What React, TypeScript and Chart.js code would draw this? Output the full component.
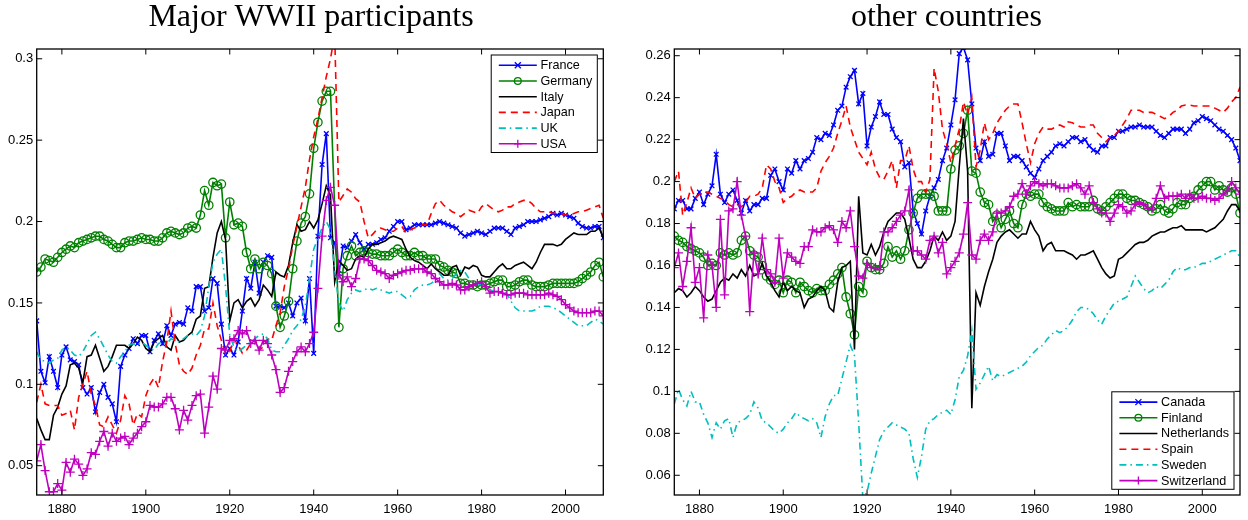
import React, { useEffect, useRef } from "react";
import { Chart, registerables } from "chart.js";

Chart.register(...registerables);

// ---------- categories ----------
const START_YEAR = 1874;
const END_YEAR = 2009;
const years: number[] = Array.from({ length: END_YEAR - START_YEAR + 1 }, (_, i) => START_YEAR + i);

// ---------- tick labels ----------
const xTicks = [1880, 1900, 1920, 1940, 1960, 1980, 2000];
const leftYTicks = [0.05, 0.1, 0.15, 0.2, 0.25, 0.3];
const rightYTicks = [0.06, 0.08, 0.1, 0.12, 0.14, 0.16, 0.18, 0.2, 0.22, 0.24, 0.26];

// ---------- left panel: Major WWII participants ----------
const france = [
  0.139, 0.108, 0.101, 0.117, 0.108, 0.098,
  0.118, 0.123, 0.115, 0.114, 0.112, 0.098, 0.094, 0.098, 0.083, 0.095,
  0.100, 0.092, 0.088, 0.077, 0.111, 0.118, 0.122, 0.128, 0.125, 0.130,
  0.130, 0.120, 0.127, 0.131, 0.125, 0.136, 0.130, 0.137, 0.138, 0.137,
  0.147, 0.145, 0.160, 0.160, 0.145, 0.147, 0.165, 0.162, 0.137, 0.118,
  0.122, 0.118, 0.126, 0.145, 0.165, 0.159, 0.175, 0.156, 0.175, 0.179,
  0.178, 0.148, 0.148, 0.147, 0.150, 0.142, 0.150, 0.153, 0.139, 0.165,
  0.119, 0.191, 0.235, 0.254, 0.190, 0.187, 0.168, 0.185, 0.184, 0.188,
  0.192, 0.187, 0.183, 0.186, 0.186, 0.187, 0.189, 0.190, 0.194, 0.197,
  0.200, 0.200, 0.195, 0.196, 0.198, 0.198, 0.198, 0.198, 0.198, 0.199,
  0.200, 0.199, 0.198, 0.197, 0.196, 0.193, 0.191, 0.192, 0.193, 0.194,
  0.193, 0.192, 0.194, 0.196, 0.196, 0.196, 0.194, 0.192, 0.196, 0.197,
  0.198, 0.200, 0.200, 0.200, 0.201, 0.202, 0.203, 0.205, 0.204, 0.205,
  0.204, 0.203, 0.202, 0.199, 0.197, 0.196, 0.196, 0.197, 0.197, 0.190,
];
const germany = [
  0.169, 0.172, 0.177, 0.176, 0.175, 0.178,
  0.181, 0.183, 0.185, 0.184, 0.187, 0.188, 0.189, 0.190, 0.191, 0.191,
  0.189, 0.188, 0.186, 0.184, 0.184, 0.187, 0.188, 0.188, 0.189, 0.190,
  0.189, 0.189, 0.188, 0.188, 0.190, 0.193, 0.194, 0.193, 0.192, 0.193,
  0.196, 0.197, 0.196, 0.204, 0.219, 0.210, 0.224, 0.222, 0.223, 0.190,
  0.212, 0.198, 0.199, 0.197, 0.181, 0.171, 0.177, 0.171, 0.175, 0.173,
  0.168, 0.148, 0.135, 0.142, 0.151, 0.171, 0.188, 0.199, 0.203, 0.217,
  0.245, 0.261, 0.274, 0.280, 0.280, null, 0.135, 0.171, 0.179, 0.185,
  0.179, 0.181, 0.182, 0.181, 0.180, 0.180, 0.179, 0.179, 0.179, 0.181,
  0.183, 0.181, 0.179, 0.179, 0.181, 0.179, 0.179, 0.177, 0.177, 0.177,
  0.173, 0.172, 0.170, 0.169, 0.168, 0.162, 0.162, 0.161, 0.161, 0.160,
  0.161, 0.161, 0.162, 0.163, 0.164, 0.164, 0.160, 0.160, 0.161, 0.163,
  0.164, 0.164, 0.161, 0.160, 0.160, 0.160, 0.161, 0.162, 0.162, 0.162,
  0.162, 0.162, 0.162, 0.163, 0.165, 0.167, 0.169, 0.173, 0.175, 0.166,
];
const italy = [
  0.079, 0.072, 0.066, 0.066, 0.081, 0.086,
  0.094, 0.099, 0.112, 0.113, 0.110, 0.101, 0.117, 0.118, 0.124, 0.116,
  0.108, 0.111, 0.117, 0.124, 0.124, 0.124, 0.122, 0.125, 0.129, 0.127,
  0.122, 0.120, 0.126, 0.128, 0.130, 0.123, 0.121, 0.130, 0.126, 0.127,
  0.130, 0.132, 0.140, 0.142, 0.159, 0.160, 0.178, 0.193, 0.200, 0.189,
  0.139, 0.150, 0.152, 0.147, 0.151, 0.153, 0.148, 0.152, 0.161, 0.158,
  0.154, 0.169, 0.167, 0.166, 0.173, 0.187, 0.198, 0.194, 0.195, 0.200,
  0.196, 0.201, 0.211, 0.222, 0.216, 0.163, 0.176, 0.173, 0.170, 0.171,
  0.177, 0.179, 0.178, 0.183, 0.186, 0.186, 0.187, 0.188, 0.190, 0.191,
  0.190, 0.189, 0.183, 0.178, 0.176, 0.175, 0.173, 0.171, 0.174, 0.171,
  0.169, 0.167, 0.167, 0.172, 0.173, 0.167, 0.172, 0.171, 0.173, 0.172,
  0.167, 0.166, 0.166, 0.169, 0.172, 0.174, 0.171, 0.171, 0.173, 0.174,
  0.175, 0.173, 0.171, 0.175, 0.181, 0.186, 0.186, 0.186, 0.185, 0.186,
  0.189, 0.191, 0.193, 0.192, 0.192, 0.192, 0.194, 0.194, 0.196, 0.190,
];
const japan = [
  0.089, 0.100, 0.088, 0.087, 0.087, 0.087,
  0.081, 0.082, 0.084, 0.072, 0.092, 0.100, 0.108, 0.094, 0.087, 0.075,
  0.074, 0.080, 0.075, 0.070, 0.078, 0.093, 0.088, 0.075, 0.082, 0.080,
  0.093, 0.100, 0.104, 0.098, 0.114, 0.126, 0.145, 0.125, 0.112, 0.108,
  0.106, 0.110, 0.118, 0.124, 0.134, 0.134, 0.150, 0.136, 0.127, 0.119,
  0.120, 0.128, 0.124, 0.119, 0.121, 0.125, 0.128, 0.121, 0.123, 0.128,
  0.127, 0.136, 0.144, 0.160, 0.171, 0.185, 0.197, 0.209, 0.221, 0.238,
  0.252, 0.263, 0.276, 0.289, 0.300, 0.315, 0.212, 0.216, 0.220, 0.218,
  0.214, 0.212, 0.200, 0.190, 0.192, 0.195, 0.196, 0.195, 0.194, 0.194,
  0.196, 0.197, 0.193, 0.195, 0.196, 0.197, 0.198, 0.198, 0.205, 0.211,
  0.213, 0.210, 0.208, 0.206, 0.205, 0.203, 0.205, 0.207, 0.206, 0.205,
  0.209, 0.211, 0.209, 0.207, 0.206, 0.207, 0.209, 0.209, 0.211, 0.212,
  0.213, 0.213, 0.211, 0.208, 0.206, 0.206, 0.206, 0.205, 0.205, 0.205,
  0.204, 0.204, 0.205, 0.206, 0.206, 0.207, 0.208, 0.209, 0.210, 0.202,
];
const uk = [
  0.120, 0.115, 0.114, 0.113, 0.115, 0.116,
  0.121, 0.123, 0.121, 0.118, 0.117, 0.120, 0.125, 0.130, 0.132, 0.128,
  0.123, 0.118, 0.114, 0.113, 0.117, 0.120, 0.124, 0.125, 0.124, 0.126,
  0.124, 0.122, 0.121, 0.125, 0.126, 0.125, 0.128, 0.127, 0.126, 0.128,
  0.130, 0.131, 0.130, 0.133, 0.142, 0.160, 0.175, 0.180, 0.183, 0.160,
  0.130, 0.123, 0.120, 0.122, 0.124, 0.126, 0.128, 0.130, 0.131, 0.128,
  0.121, 0.120, 0.120, 0.124, 0.128, 0.133, 0.136, 0.140, 0.148, 0.165,
  0.183, 0.190, 0.196, 0.200, 0.195, 0.170, 0.150, 0.145, 0.152, 0.156,
  0.158, 0.157, 0.158, 0.159, 0.158, 0.159, 0.158, 0.157, 0.156, 0.157,
  0.157, 0.155, 0.153, 0.154, 0.158, 0.160, 0.161, 0.161, 0.162, 0.164,
  0.168, 0.165, 0.164, 0.165, 0.168, 0.170, 0.169, 0.165, 0.162, 0.162,
  0.161, 0.160, 0.158, 0.157, 0.157, 0.158, 0.156, 0.151, 0.147, 0.145,
  0.145, 0.145, 0.145, 0.146, 0.148, 0.148, 0.148, 0.147, 0.146, 0.144,
  0.142, 0.140, 0.138, 0.136, 0.136, 0.136, 0.138, 0.140, 0.139, 0.137,
];
const usa = [
  0.053, 0.063, 0.047, 0.034, 0.034, 0.039,
  0.035, 0.052, 0.046, 0.054, 0.051, 0.044, 0.048, 0.058, 0.057, 0.065,
  0.071, 0.062, 0.070, 0.065, 0.067, 0.068, 0.063, 0.067, 0.070, 0.074,
  0.077, 0.087, 0.086, 0.086, 0.088, 0.092, 0.092, 0.085, 0.072, 0.084,
  0.078, 0.087, 0.093, 0.094, 0.070, 0.086, 0.105, 0.097, 0.122, 0.121,
  0.127, 0.128, 0.133, 0.131, 0.133, 0.125, 0.127, 0.121, 0.127, 0.125,
  0.118, 0.109, 0.095, 0.098, 0.108, 0.114, 0.120, 0.123, 0.120, 0.125,
  0.132, 0.159, 0.191, 0.213, 0.221, 0.210, 0.167, 0.163, 0.166, 0.160,
  0.165, 0.177, 0.177, 0.176, 0.173, 0.170, 0.169, 0.168, 0.165, 0.167,
  0.168, 0.169, 0.170, 0.170, 0.171, 0.171, 0.171, 0.169, 0.168, 0.165,
  0.163, 0.161, 0.161, 0.162, 0.161, 0.158, 0.158, 0.160, 0.161, 0.162,
  0.163, 0.160, 0.156, 0.157, 0.157, 0.156, 0.155, 0.155, 0.156, 0.156,
  0.156, 0.155, 0.155, 0.155, 0.155, 0.155, 0.156, 0.155, 0.154, 0.152,
  0.149, 0.147, 0.145, 0.144, 0.144, 0.144, 0.144, 0.145, 0.145, 0.142,
];

// ---------- right panel: other countries ----------
const canada = [
  0.187, 0.191, 0.191, 0.187, 0.187, 0.192,
  0.195, 0.189, 0.194, 0.198, 0.213, 0.194, 0.190, 0.194, 0.196, 0.191,
  0.185, 0.191, 0.186, 0.189, 0.189, 0.192, 0.192, 0.203, 0.206, 0.200,
  0.196, 0.206, 0.204, 0.210, 0.206, 0.210, 0.211, 0.214, 0.221, 0.220,
  0.223, 0.222, 0.227, 0.234, 0.236, 0.245, 0.250, 0.253, 0.237, 0.242,
  0.217, 0.226, 0.231, 0.238, 0.232, 0.232, 0.225, 0.221, 0.219, 0.207,
  0.209, 0.186, 0.180, 0.175, 0.186, 0.193, 0.197, 0.201, 0.210, 0.216,
  0.227, 0.239, 0.261, 0.264, 0.258, 0.237, 0.216, 0.210, 0.219, 0.212,
  0.213, 0.223, 0.223, 0.217, 0.210, 0.212, 0.212, 0.210, 0.207, 0.204,
  0.202, 0.206, 0.210, 0.212, 0.214, 0.217, 0.218, 0.217, 0.219, 0.221,
  0.221, 0.219, 0.220, 0.217, 0.215, 0.214, 0.217, 0.217, 0.221, 0.221,
  0.224, 0.224, 0.225, 0.226, 0.226, 0.227, 0.226, 0.226, 0.226, 0.224,
  0.222, 0.221, 0.223, 0.225, 0.225, 0.225, 0.223, 0.225, 0.228, 0.229,
  0.231, 0.230, 0.229, 0.227, 0.225, 0.224, 0.222, 0.220, 0.216, 0.210,
];
const finland = [
  0.174, 0.172, 0.171, 0.169, 0.168, 0.167,
  0.166, 0.164, 0.160, 0.161, 0.160, 0.166, 0.165, 0.166, 0.165, 0.166,
  0.172, 0.174, 0.167, 0.165, 0.164, 0.160, 0.155, 0.153, 0.151, 0.153,
  0.147, 0.153, 0.152, 0.147, 0.152, 0.150, 0.148, 0.147, 0.149, 0.148,
  0.148, 0.151, 0.153, 0.156, 0.159, 0.145, 0.137, 0.127, 0.150, 0.147,
  0.162, 0.159, 0.158, 0.158, 0.161, 0.169, 0.164, 0.167, 0.163, 0.167,
  0.177, 0.185, 0.192, 0.194, 0.194, 0.194, 0.193, 0.186, 0.186, 0.186,
  0.206, 0.215, 0.217, 0.223, 0.234, 0.205, 0.204, 0.195, 0.190, 0.189,
  0.181, 0.184, 0.178, 0.182, 0.186, 0.180, 0.178, 0.189, 0.194, 0.193,
  0.194, 0.194, 0.190, 0.188, 0.187, 0.186, 0.186, 0.186, 0.190, 0.188,
  0.189, 0.188, 0.188, 0.188, 0.191, 0.187, 0.186, 0.188, 0.190, 0.192,
  0.194, 0.194, 0.192, 0.191, 0.191, 0.190, 0.189, 0.188, 0.186, 0.187,
  0.189, 0.186, 0.185, 0.187, 0.190, 0.189, 0.189, 0.192, 0.193, 0.196,
  0.198, 0.200, 0.200, 0.196, 0.198, 0.196, 0.195, 0.197, 0.194, 0.185,
];
const netherlands = [
  0.147, 0.149, 0.148, 0.145, 0.147, 0.150,
  0.148, 0.145, 0.143, 0.144, 0.148, 0.152, 0.154, 0.153, 0.156, 0.154,
  0.158, 0.155, 0.160, 0.155, 0.156, 0.161, 0.155, 0.152, 0.148, 0.145,
  0.152, 0.148, 0.150, 0.148, 0.147, 0.140, 0.144, 0.145, 0.148, 0.150,
  0.148, 0.140, 0.138, 0.152, 0.159, 0.160, 0.162, 0.120, 0.193, 0.166,
  0.165, 0.170, 0.165, 0.169, 0.176, 0.181, 0.183, 0.185, 0.185, 0.182,
  0.173, 0.163, 0.159, 0.159, 0.162, 0.167, 0.174, 0.172, 0.176, 0.172,
  0.174, 0.181, 0.207, 0.230, 0.205, 0.092, 0.147, 0.141, 0.150, 0.157,
  0.163, 0.171, 0.174, 0.176, 0.177, 0.175, 0.173, 0.175, 0.175, 0.181,
  0.177, 0.174, 0.167, 0.170, 0.171, 0.167, 0.167, 0.167, 0.166, 0.165,
  0.163, 0.165, 0.165, 0.166, 0.167, 0.163, 0.159, 0.156, 0.154, 0.155,
  0.163, 0.164, 0.166, 0.168, 0.170, 0.171, 0.171, 0.172, 0.174, 0.175,
  0.176, 0.176, 0.177, 0.178, 0.178, 0.179, 0.177, 0.177, 0.177, 0.177,
  0.177, 0.176, 0.177, 0.178, 0.180, 0.182, 0.186, 0.189, 0.189, 0.186,
];
const spain = [
  0.200, 0.205, 0.184, 0.190, 0.197, 0.192,
  0.194, 0.195, 0.195, 0.194, 0.193, 0.192, 0.191, 0.189, 0.188, 0.189,
  0.188, 0.190, 0.193, 0.193, 0.194, 0.197, 0.208, 0.206, 0.200, 0.197,
  0.190, 0.192, 0.193, 0.195, 0.196, 0.195, 0.195, 0.195, 0.197, 0.205,
  0.209, 0.212, 0.216, 0.223, 0.229, 0.236, 0.226, 0.220, 0.214, 0.211,
  0.208, 0.214, 0.206, 0.202, 0.201, 0.205, 0.210, 0.197, 0.210, 0.210,
  0.217, 0.206, 0.200, 0.200, 0.195, 0.201, 0.254, 0.243, 0.225, 0.218,
  0.209, 0.217, 0.225, 0.238, 0.232, 0.240, 0.207, 0.215, 0.228, 0.220,
  0.223, 0.228, 0.231, 0.234, 0.236, 0.237, 0.237, 0.228, 0.218, 0.209,
  0.218, 0.223, 0.226, 0.225, 0.225, 0.226, 0.227, 0.226, 0.2285, 0.228,
  0.227, 0.226, 0.226, 0.227, 0.227, 0.223, 0.221, 0.219, 0.221, 0.222,
  0.224, 0.227, 0.230, 0.234, 0.234, 0.234, 0.233, 0.233, 0.233, 0.232,
  0.231, 0.230, 0.231, 0.233, 0.234, 0.236, 0.2365, 0.2365, 0.236, 0.236,
  0.236, 0.236, 0.236, 0.235, 0.234, 0.233, 0.235, 0.238, 0.240, 0.245,
];
const sweden = [
  0.094, 0.101, 0.096, 0.093, 0.100, 0.095,
  0.095, 0.089, 0.085, 0.078, 0.085, 0.082, 0.086, 0.087, 0.078, 0.085,
  0.086, 0.087, 0.089, 0.095, 0.092, 0.086, 0.085, 0.083, 0.081, 0.080,
  0.082, 0.085, 0.087, 0.090, 0.088, 0.087, 0.086, 0.087, 0.085, 0.078,
  0.088, 0.094, 0.098, 0.098, 0.106, 0.114, 0.122, 0.117, 0.085, 0.049,
  0.052, 0.061, 0.069, 0.077, 0.081, 0.083, 0.085, 0.084, 0.083, 0.082,
  0.080, 0.068, 0.059, 0.069, 0.082, 0.086, 0.087, 0.089, 0.090, 0.091,
  0.089, 0.096, 0.107, 0.110, 0.117, 0.129, 0.101, 0.104, 0.108, 0.112,
  0.105, 0.108, 0.107, 0.108, 0.109, 0.110, 0.111, 0.112, 0.114, 0.117,
  0.119, 0.121, 0.122, 0.125, 0.127, 0.129, 0.128, 0.129, 0.131, 0.134,
  0.138, 0.140, 0.140, 0.139, 0.137, 0.134, 0.132, 0.136, 0.139, 0.142,
  0.143, 0.144, 0.145, 0.150, 0.155, 0.152, 0.149, 0.147, 0.148, 0.150,
  0.149, 0.151, 0.153, 0.157, 0.159, 0.158, 0.158, 0.159, 0.159, 0.160,
  0.161, 0.161, 0.162, 0.163, 0.164, 0.165, 0.166, 0.167, 0.167, 0.164,
];
const switzerland = [
  0.159, 0.166, 0.150, 0.162, 0.178, 0.152,
  0.159, 0.135, 0.165, 0.160, 0.140, 0.182, 0.146, 0.186, 0.187, 0.200,
  0.184, 0.174, 0.138, 0.166, 0.156, 0.173, 0.158, 0.156, 0.152, 0.173,
  0.154, 0.166, 0.164, 0.162, 0.161, 0.169, 0.169, 0.177, 0.176, 0.176,
  0.178, 0.179, 0.177, 0.171, 0.181, 0.178, 0.186, 0.169, 0.155, 0.154,
  0.161, 0.159, 0.159, 0.158, 0.176, 0.176, 0.178, 0.181, 0.184, 0.186,
  0.196, 0.167, 0.167, 0.165, 0.163, 0.172, 0.174, 0.166, 0.171, 0.156,
  0.159, 0.162, 0.166, 0.175, 0.190, 0.165, 0.163, 0.172, 0.175, 0.172,
  0.176, 0.185, 0.185, 0.186, 0.188, 0.193, 0.194, 0.199, 0.194, 0.198,
  0.200, 0.199, 0.198, 0.199, 0.199, 0.198, 0.197, 0.197, 0.197, 0.198,
  0.199, 0.197, 0.194, 0.198, 0.190, 0.187, 0.185, 0.185, 0.181, 0.185,
  0.189, 0.188, 0.185, 0.186, 0.189, 0.190, 0.189, 0.187, 0.187, 0.192,
  0.198, 0.192, 0.193, 0.193, 0.193, 0.194, 0.192, 0.194, 0.192, 0.192,
  0.193, 0.192, 0.192, 0.191, 0.192, 0.194, 0.196, 0.200, 0.197, 0.194,
];

// ---------- styles ----------
type Marker = "crossRot" | "circle" | "cross" | null;
interface Style { color: string; dash: number[]; marker: Marker; }
const STYLES: Style[] = [
  { color: "#0000ff", dash: [], marker: "crossRot" },
  { color: "#008000", dash: [], marker: "circle" },
  { color: "#000000", dash: [], marker: null },
  { color: "#ff0000", dash: [7, 5], marker: null },
  { color: "#00bfbf", dash: [7, 4, 1.5, 4], marker: null },
  { color: "#bf00bf", dash: [], marker: "cross" },
];
const MARKER_R: Record<string, number> = { crossRot: 3.3, circle: 4.2, cross: 4.5 };
const LEGEND_MARKER_R: Record<string, number> = { crossRot: 3, circle: 3.4, cross: 4 };

const SANS = '"Liberation Sans", Arial, Helvetica, sans-serif';
const SERIF = '"Liberation Serif", "Times New Roman", serif';

interface PanelDef {
  title: string;
  titleX: number;
  labels: string[];
  series: (number | null)[][];
  yMin: number;
  yMax: number;
  yTicks: number[];
  yAxisWidth: number;
  padRight: number;
  legendPos: "top" | "bottom";
}

const PANELS: PanelDef[] = [
  {
    title: "Major WWII participants",
    titleX: 311,
    labels: ["France", "Germany", "Italy", "Japan", "UK", "USA"],
    series: [france, germany, italy, japan, uk, usa],
    yMin: 0.032,
    yMax: 0.306,
    yTicks: leftYTicks,
    yAxisWidth: 36.7,
    padRight: 20.7,
    legendPos: "top",
  },
  {
    title: "other countries",
    titleX: 322.5,
    labels: ["Canada", "Finland", "Netherlands", "Spain", "Sweden", "Switzerland"],
    series: [canada, finland, netherlands, spain, sweden, switzerland],
    yMin: 0.0506,
    yMax: 0.2632,
    yTicks: rightYTicks,
    yAxisWidth: 50.3,
    padRight: 8,
    legendPos: "bottom",
  },
];

function drawMarker(ctx: CanvasRenderingContext2D, m: Marker, x: number, y: number) {
  if (!m) return;
  const r = LEGEND_MARKER_R[m];
  ctx.beginPath();
  if (m === "circle") {
    ctx.arc(x, y, r, 0, Math.PI * 2);
  } else if (m === "cross") {
    ctx.moveTo(x - r, y); ctx.lineTo(x + r, y);
    ctx.moveTo(x, y - r); ctx.lineTo(x, y + r);
  } else {
    ctx.moveTo(x - r, y - r); ctx.lineTo(x + r, y + r);
    ctx.moveTo(x - r, y + r); ctx.lineTo(x + r, y - r);
  }
  ctx.stroke();
}

const framePlugin = {
  id: "matlabFrame",
  afterDatasetsDraw(chart: any, _args: any, opts: any) {
    const { ctx, chartArea: a, scales } = chart;
    ctx.save();
    ctx.strokeStyle = "#000";
    ctx.lineWidth = 1.3;
    ctx.setLineDash([]);
    ctx.strokeRect(a.left, a.top, a.right - a.left, a.bottom - a.top);
    const tl = 5.5;
    ctx.lineWidth = 1;
    ctx.beginPath();
    for (const t of scales.x.ticks) {
      const px = scales.x.getPixelForValue(t.value);
      ctx.moveTo(px, a.bottom); ctx.lineTo(px, a.bottom - tl);
      ctx.moveTo(px, a.top); ctx.lineTo(px, a.top + tl);
    }
    for (const t of scales.y.ticks) {
      const py = scales.y.getPixelForValue(t.value);
      ctx.moveTo(a.left, py); ctx.lineTo(a.left + tl, py);
      ctx.moveTo(a.right, py); ctx.lineTo(a.right - tl, py);
    }
    ctx.stroke();

    // legend
    const labels: string[] = opts.labels;
    ctx.font = `12.6px ${SANS}`;
    let maxW = 0;
    for (const l of labels) maxW = Math.max(maxW, ctx.measureText(l).width);
    const rowH = 15.7;
    const boxW = 49.3 + maxW + 5;
    const boxH = 10.3 + (labels.length - 1) * rowH + 8.7;
    const right = a.right - 6;
    const left = right - boxW;
    const top = opts.legendPos === "top" ? a.top + 6 : a.bottom - 5.7 - boxH;
    ctx.fillStyle = "#fff";
    ctx.fillRect(left, top, boxW, boxH);
    ctx.strokeStyle = "#000";
    ctx.lineWidth = 1;
    ctx.strokeRect(left, top, boxW, boxH);
    labels.forEach((label, i) => {
      const st = STYLES[i];
      const y = top + 10.3 + i * rowH;
      const x0 = left + 7.6;
      const x1 = left + 45.6;
      ctx.strokeStyle = st.color;
      ctx.lineWidth = 1.6;
      ctx.setLineDash(st.dash);
      ctx.beginPath();
      ctx.moveTo(x0, y); ctx.lineTo(x1, y);
      ctx.stroke();
      ctx.setLineDash([]);
      ctx.lineWidth = 1.3;
      drawMarker(ctx, st.marker, (x0 + x1) / 2, y);
      ctx.fillStyle = "#000";
      ctx.textAlign = "left";
      ctx.textBaseline = "middle";
      ctx.fillText(label, left + 49.3, y + 0.5);
    });
    ctx.restore();
  },
  afterDraw(chart: any, _args: any, opts: any) {
    const { ctx } = chart;
    ctx.save();
    ctx.font = `32px ${SERIF}`;
    ctx.fillStyle = "#000";
    ctx.textAlign = "center";
    ctx.textBaseline = "alphabetic";
    ctx.fillText(opts.title, opts.titleX, 26);
    ctx.restore();
  },
};

function Panel({ def }: { def: PanelDef }) {
  const ref = useRef<HTMLCanvasElement | null>(null);
  useEffect(() => {
    if (!ref.current) return;
    const datasets = def.series.map((vals, i) => {
      const st = STYLES[i];
      return {
        label: def.labels[i],
        data: years.map((yr, j) => ({ x: yr, y: vals[j] })),
        borderColor: st.color,
        backgroundColor: st.color,
        borderWidth: 1.6,
        borderDash: st.dash,
        tension: 0,
        spanGaps: true,
        pointStyle: st.marker || "circle",
        pointRadius: st.marker ? MARKER_R[st.marker] : 0,
        pointBorderWidth: 1.3,
        pointBorderColor: st.color,
        pointBackgroundColor: "rgba(0,0,0,0)",
        pointHoverRadius: 0,
        order: 10 - i,
      };
    });
    const tickFont = { family: SANS, size: 13 };
    const chart = new Chart(ref.current, {
      type: "line",
      data: { datasets } as any,
      plugins: [framePlugin],
      options: {
        animation: false,
        responsive: false,
        maintainAspectRatio: false,
        events: [],
        layout: { padding: { left: 0, right: def.padRight, top: 49, bottom: 0 } },
        plugins: {
          legend: { display: false },
          tooltip: { enabled: false },
          title: { display: false },
          matlabFrame: {
            title: def.title,
            titleX: def.titleX,
            labels: def.labels,
            legendPos: def.legendPos,
          },
        } as any,
        scales: {
          x: {
            type: "linear",
            min: START_YEAR,
            max: END_YEAR,
            grid: { display: false, drawTicks: false },
            border: { display: false },
            afterBuildTicks: (s: any) => { s.ticks = xTicks.map((v) => ({ value: v })); },
            afterFit: (s: any) => { s.height = 25; },
            ticks: {
              callback: (v: any) => String(v),
              font: tickFont,
              color: "#000",
              padding: 6.5,
              maxRotation: 0,
              autoSkip: false,
            },
          },
          y: {
            type: "linear",
            min: def.yMin,
            max: def.yMax,
            grid: { display: false, drawTicks: false },
            border: { display: false },
            afterBuildTicks: (s: any) => { s.ticks = def.yTicks.map((v) => ({ value: v })); },
            afterFit: (s: any) => { s.width = def.yAxisWidth; },
            ticks: {
              callback: (v: any) => String(v),
              font: tickFont,
              color: "#000",
              padding: 3.5,
              autoSkip: false,
            },
          },
        },
      } as any,
    });
    return () => chart.destroy();
  }, [def]);
  return <canvas ref={ref} width={624} height={520} style={{ display: "block", width: 624, height: 520 }} />;
}

export default function App() {
  return (
    <div style={{ position: "absolute", left: 0, top: 0, width: 1248, height: 520, background: "#fff", display: "flex" }}>
      <Panel def={PANELS[0]} />
      <Panel def={PANELS[1]} />
    </div>
  );
}
